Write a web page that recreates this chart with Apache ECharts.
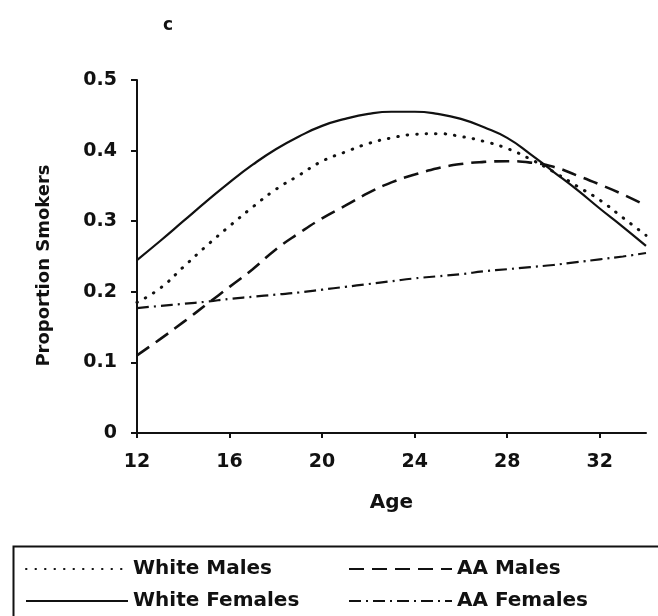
<!DOCTYPE html>
<html>
<head>
<meta charset="utf-8">
<script src="https://cdn.jsdelivr.net/npm/echarts@6/dist/echarts.min.js"></script>
<style>
html,body{margin:0;padding:0;background:#fff;}
#chart{width:658px;height:616px;}
</style>
</head>
<body>
<div id="chart"></div>
<script>
// Data
const ages = [12,13,14,15,16,17,18,19,20,21,22,23,24,25,26,27,28,29,30,31,32,33,34];
const whiteMales   = [0.185,0.205,0.235,0.265,0.293,0.320,0.345,0.365,0.385,0.398,0.410,0.418,0.423,0.424,0.420,0.413,0.403,0.388,0.370,0.350,0.330,0.305,0.280];
const whiteFemales = [0.245,0.272,0.300,0.328,0.355,0.380,0.402,0.420,0.435,0.445,0.452,0.455,0.455,0.452,0.445,0.433,0.418,0.395,0.370,0.345,0.318,0.292,0.265];
const aaMales      = [0.110,0.133,0.157,0.182,0.207,0.232,0.260,0.283,0.304,0.322,0.340,0.355,0.366,0.375,0.381,0.384,0.385,0.383,0.377,0.365,0.352,0.338,0.322];
const aaFemales    = [0.177,0.180,0.183,0.186,0.190,0.193,0.196,0.199,0.203,0.207,0.211,0.215,0.219,0.222,0.225,0.229,0.232,0.235,0.238,0.242,0.246,0.250,0.255];
const seriesNames = ['White Males','White Females','AA Males','AA Females'];
const panelLabel = 'c';
const xName = 'Age';
const yName = 'Proportion Smokers';

const pair = arr => ages.map((a,i)=>[a, arr[i]]);
const ink = '#111';
const font = 'DejaVu Sans';

const chart = echarts.init(document.getElementById('chart'));
const mk = (name, arr, lineStyle) => ({
  name, type:'line', data: pair(arr), smooth: true, showSymbol:false, symbol:'none',
  lineStyle: Object.assign({color: ink}, lineStyle), itemStyle:{color: ink}, z: 3
});
const legendText = {fontFamily:font, fontWeight:'bold', fontSize:20, color:ink, lineHeight:20};
chart.setOption({
  animation:false,
  backgroundColor:'#fff',
  title:{text: panelLabel, left:158, top:12, textStyle:{fontFamily:font, fontWeight:'bold', fontSize:17, color:ink}},
  grid:{left:137, right:12, top:80, bottom:183, containLabel:false},
  xAxis:{type:'value', min:12, max:34, interval:4,
    name:xName, nameLocation:'middle', nameGap:60,
    nameTextStyle:{fontFamily:font, fontWeight:'bold', fontSize:20, color:ink},
    axisLine:{show:true, onZero:false, lineStyle:{color:ink, width:2}},
    axisTick:{show:true, length:5, lineStyle:{color:ink, width:2}},
    axisLabel:{showMaxLabel:false, margin:20, fontFamily:font, fontWeight:'bold', fontSize:19, color:ink},
    splitLine:{show:false}},
  yAxis:{type:'value', min:0, max:0.5, interval:0.1,
    name:yName, nameLocation:'middle', nameGap:84,
    nameTextStyle:{fontFamily:font, fontWeight:'bold', fontSize:18, color:ink, padding:[0,18,0,0]},
    axisLine:{show:true, lineStyle:{color:ink, width:2}},
    axisTick:{show:true, length:6, lineStyle:{color:ink, width:2}},
    axisLabel:{margin:20, fontFamily:font, fontWeight:'bold', fontSize:19, color:ink},
    splitLine:{show:false}},
  legend:[
    {data:[seriesNames[0], seriesNames[1]], orient:'vertical', left:20, top:554, itemWidth:102, itemHeight:14, itemGap:12,
     itemStyle:{opacity:0}, textStyle:legendText},
    {data:[seriesNames[2], seriesNames[3]], orient:'vertical', left:343, top:554, itemWidth:103, itemHeight:14, itemGap:12,
     itemStyle:{opacity:0}, textStyle:legendText}
  ],
  graphic:[{type:'rect', left:11, top:544, shape:{width:680, height:100}, style:{fill:'none', stroke:ink, lineWidth:2}, silent:true}],
  series:[
    mk(seriesNames[0], whiteMales, {width:3, type:[0.5,9], cap:'round'}),
    mk(seriesNames[1], whiteFemales, {width:2.2, type:'solid'}),
    mk(seriesNames[2], aaMales, {width:2.6, type:[15,8]}),
    mk(seriesNames[3], aaFemales, {width:2.2, type:[12,5,2,5]})
  ]
});
</script>
</body>
</html>
